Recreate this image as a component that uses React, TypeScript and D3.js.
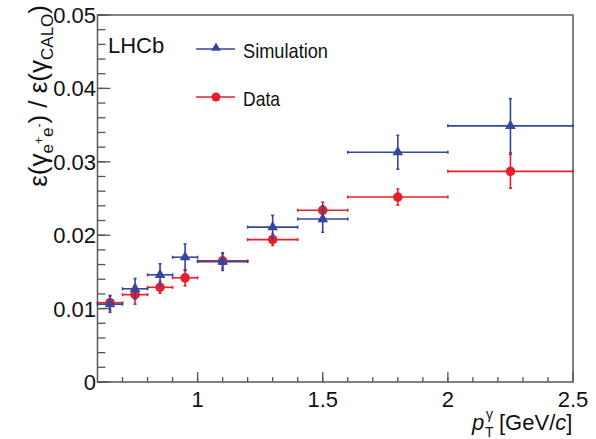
import React from 'react'
import * as d3 from 'd3'

// bins in pT (GeV/c)
const binLow = [0.6, 0.7, 0.8, 0.9, 1.0, 1.2, 1.4, 1.6, 2.0]
const binHigh = [0.7, 0.8, 0.9, 1.0, 1.2, 1.4, 1.6, 2.0, 2.5]
const binCenter = [0.65, 0.75, 0.85, 0.95, 1.1, 1.3, 1.5, 1.8, 2.25]

const simValues = [0.0106, 0.0127, 0.0146, 0.017, 0.0164, 0.0211, 0.0222, 0.0313, 0.0349]
const simErrors = [0.0011, 0.0014, 0.0015, 0.0018, 0.0012, 0.0016, 0.0018, 0.0023, 0.0037]
const dataValues = [0.0108, 0.0119, 0.0129, 0.0142, 0.0165, 0.0194, 0.0234, 0.0252, 0.0287]
const dataErrors = [0.001, 0.0013, 0.0008, 0.0011, 0.001, 0.0008, 0.0011, 0.0011, 0.0023]

const xMajor = [1, 1.5, 2, 2.5]
const xMajorLabels = ['1', '1.5', '2', '2.5']
const yMajor = [0, 0.01, 0.02, 0.03, 0.04, 0.05]
const yMajorLabels = ['0', '0.01', '0.02', '0.03', '0.04', '0.05']

const BLUE = '#34479c'
const RED = '#e4212b'
const FONT = '"Liberation Sans", Arial, sans-serif'

const x = d3.scaleLinear().domain([0.6, 2.5]).range([97.5, 573])
const y = d3.scaleLinear().domain([0, 0.05]).range([382, 15])

function Series({ values, errors, color, marker }) {
  const tri = d3.symbol().type(d3.symbolTriangle).size(50)()
  return (
    <g stroke={color} fill={color} strokeWidth={1.6}>
      {values.map((v, i) => {
        const cx = x(binCenter[i])
        const cy = y(v)
        const x0 = x(binLow[i])
        const x1 = x(binHigh[i])
        const y0 = y(v - errors[i])
        const y1 = y(v + errors[i])
        return (
          <g key={i}>
            <line x1={x0} x2={x1} y1={cy} y2={cy} />
            <line x1={cx} x2={cx} y1={y0} y2={y1} />
            <line x1={x0} x2={x0} y1={cy - 1.5} y2={cy + 1.5} />
            <line x1={x1} x2={x1} y1={cy - 1.5} y2={cy + 1.5} />
            <line x1={cx - 1.5} x2={cx + 1.5} y1={y0} y2={y0} />
            <line x1={cx - 1.5} x2={cx + 1.5} y1={y1} y2={y1} />
            {marker === 'circle' ? (
              <circle cx={cx} cy={cy} r={4.8} stroke="none" />
            ) : (
              <path d={tri} transform={`translate(${cx},${cy})`} stroke="none" />
            )}
          </g>
        )
      })}
    </g>
  )
}

export default function App() {
  const xMinor = d3.range(7, 25).map(d => d / 10)
  const yMinor = d3.range(0, 26).map(d => d * 0.002)
  const tri = d3.symbol().type(d3.symbolTriangle).size(40)()
  return (
    <svg width={596} height={439} style={{ position: 'absolute', left: 0, top: 0, background: '#fff' }} fontFamily={FONT}>
      {/* frame */}
      <rect x={97.5} y={15} width={475.5} height={367} fill="none" stroke="#5a5a5a" strokeWidth={1.5} />
      {/* ticks */}
      <g stroke="#555" strokeWidth={1.3}>
        {xMinor.map(t => (
          <line key={'xm' + t} x1={x(t)} x2={x(t)} y1={382} y2={377} />
        ))}
        {xMajor.map(t => (
          <line key={'xM' + t} x1={x(t)} x2={x(t)} y1={382} y2={372} />
        ))}
        {yMinor.map(t => (
          <line key={'ym' + t} x1={97.5} x2={105.5} y1={y(t)} y2={y(t)} />
        ))}
        {yMajor.map(t => (
          <line key={'yM' + t} x1={97.5} x2={110.5} y1={y(t)} y2={y(t)} />
        ))}
      </g>
      <g fontSize={22} fill="#111">
        {xMajor.map((t, i) => (
          <text key={'xl' + t} x={x(t)} y={407} textAnchor="middle">
            {xMajorLabels[i]}
          </text>
        ))}
        {yMajor.map((t, i) => (
          <text key={'yl' + t} x={96} y={y(t) + 8} textAnchor="end">
            {yMajorLabels[i]}
          </text>
        ))}
      </g>

      {/* axis titles */}
      <g fill="#111">
        <text x={472} y={430} fontSize={22} fontStyle="italic">p</text>
        <text x={486} y={419} fontSize={14}>γ</text>
        <text x={485} y={437} fontSize={14}>T</text>
        <text x={499} y={430} fontSize={22}>
          [GeV/<tspan fontStyle="italic">c</tspan>]
        </text>
      </g>
      <text transform="translate(47,5) rotate(-90)" textAnchor="end" fontSize={26} fill="#111">
        ε(γ
        <tspan fontSize={17} dy={6}>e</tspan>
        <tspan fontSize={12} dy={-10}>+</tspan>
        <tspan fontSize={17} dy={10}>e</tspan>
        <tspan fontSize={12} dy={-10}>-</tspan>
        <tspan dy={4}>) / ε(γ</tspan>
        <tspan fontSize={17} dy={6}>CALO</tspan>
        <tspan dy={-6}>)</tspan>
      </text>

      {/* data */}
      <Series values={dataValues} errors={dataErrors} color={RED} marker="circle" />
      <Series values={simValues} errors={simErrors} color={BLUE} marker="triangle" />

      {/* legend */}
      <text x={108} y={53} fontSize={22} fill="#111">LHCb</text>
      <g strokeWidth={1.6}>
        <line x1={196} x2={235} y1={49} y2={49} stroke={BLUE} />
        <path d={tri} transform="translate(216,48)" fill={BLUE} />
        <line x1={196} x2={235} y1={97} y2={97} stroke={RED} />
        <circle cx={216} cy={97} r={4.5} fill={RED} />
      </g>
      <g fontSize={21} fill="#111">
        <text x={243} y={58} textLength={85} lengthAdjust="spacingAndGlyphs">Simulation</text>
        <text x={243} y={106} textLength={37} lengthAdjust="spacingAndGlyphs">Data</text>
      </g>
    </svg>
  )
}
